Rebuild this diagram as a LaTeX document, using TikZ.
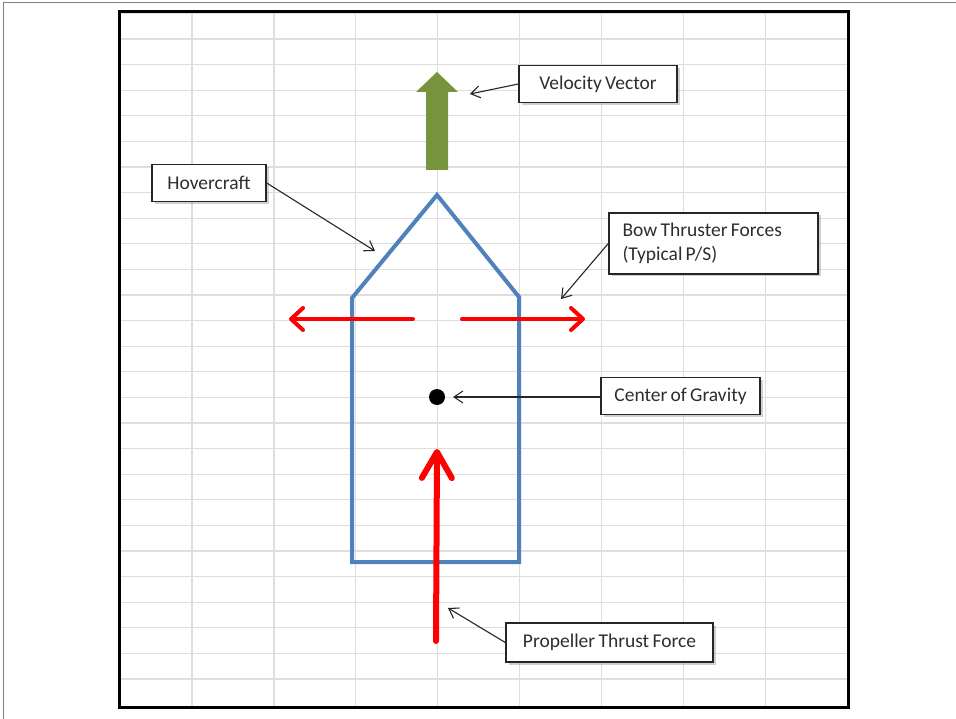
\documentclass[tikz,border=0pt]{standalone}
\usepackage{fontspec}
\setmainfont[WordSpace=0.75]{Carlito}
\usetikzlibrary{arrows.meta,shadows}
\definecolor{hullblue}{HTML}{4F81BD}
\definecolor{vecgreen}{HTML}{77933C}
\definecolor{forcered}{HTML}{FF0000}
\definecolor{gridgray}{HTML}{DEDEDE}
\definecolor{labeltext}{HTML}{2E2E2E}
\begin{document}
\begin{tikzpicture}[x=1pt,y=-1pt,
  labelfont/.style={text=labeltext, font=\fontsize{19.5}{24.5}\selectfont},
  labelbox/.style={labelfont, draw=black!85, line width=1.4pt, fill=white, inner sep=0pt,
    drop shadow={shadow xshift=2.5pt, shadow yshift=-2.5pt, opacity=0.3, fill=black!60}},
  callout/.style={draw=black!85, line width=1.1pt, -{Straight Barb[length=9pt,width=12pt]}},
  sideforce/.style={draw=forcered, line width=4pt, line cap=round,
    -{Straight Barb[round,length=12pt,width=22pt]}},
  mainforce/.style={draw=forcered, line width=6pt, line cap=round,
    -{Straight Barb[round,length=26pt,width=30pt]}},
  hull/.style={draw=hullblue, line width=4pt, line join=miter},
  gridline/.style={draw=gridgray, line width=1.3pt}
]
\useasboundingbox (0,0) rectangle (956,719);
\fill[white] (0,0) rectangle (956,719);

% page edge
\draw[gray, line width=1pt] (3,719) -- (3,3) -- (956,3);

% worksheet grid
\begin{scope}
  \clip (119,12) rectangle (848,707);
  \foreach \k in {0,...,7}
    \draw[gridline] ({192+81.9*\k},12) -- ({192+81.9*\k},707);
  \foreach \n in {-1,...,25}
    \draw[gridline] (119,{39+25.6*\n}) -- (848,{39+25.6*\n});
\end{scope}
\draw[line width=3pt] (119,12) rectangle (848,707);

% hovercraft hull
\draw[hull] (352,298) -- (437,195) -- (519,297) -- (519,562) -- (352,562) -- cycle;

% velocity vector (block arrow)
\fill[vecgreen] (426,170) -- (426,92) -- (416,92) -- (437,72) -- (458,92)
  -- (448,92) -- (448,170) -- cycle;

% bow thruster forces
\coordinate (bowLs) at (413,319);
\coordinate (bowLt) at (289,319);
\coordinate (bowRs) at (462,319);
\coordinate (bowRt) at (585,319);
\draw[sideforce] (bowLs) -- (bowLt);
\draw[sideforce] (bowRs) -- (bowRt);

% propeller thrust
\coordinate (propS) at (436,641);
\coordinate (propT) at (437,449);
\draw[mainforce] (propS) -- (propT);

% center of gravity
\node[circle, fill=black, minimum size=16pt, inner sep=0pt] (cg) at (437,397) {};

% labels
\node[labelbox, minimum width=158pt, minimum height=37pt] (velbox) at (598,84) {Velocity Vector};
\node[labelbox, minimum width=114pt, minimum height=37pt] (hovbox) at (209,183) {Hovercraft};
\node[labelbox, minimum width=209pt, minimum height=61pt] (bowbox) at (713.5,243.5) {};
\node[labelfont, anchor=west, align=left, inner sep=0pt] (bowtext)
  at ([xshift=14pt]bowbox.west) {Bow Thruster Forces\\(Typical P/S)};
\node[labelbox, minimum width=159pt, minimum height=37pt] (cgbox) at (680.5,396) {Center of Gravity};
\node[labelbox, minimum width=207pt, minimum height=39pt] (propbox) at (609.5,642.5) {Propeller Thrust Force};

% callout connectors
\coordinate (velT) at (470,94);
\coordinate (hovT) at (375,251);
\coordinate (bowT) at (561,299);
\coordinate (cgT) at (453,397);
\coordinate (propL) at (448,608);
\draw[callout] (velbox.west) -- (velT);
\draw[callout] (hovbox.east) -- (hovT);
\draw[callout] (bowbox.west) -- (bowT);
\draw[callout] (cgbox.west |- cgT) -- (cgT);
\draw[callout] (propbox.west) -- (propL);
\end{tikzpicture}
\end{document}
